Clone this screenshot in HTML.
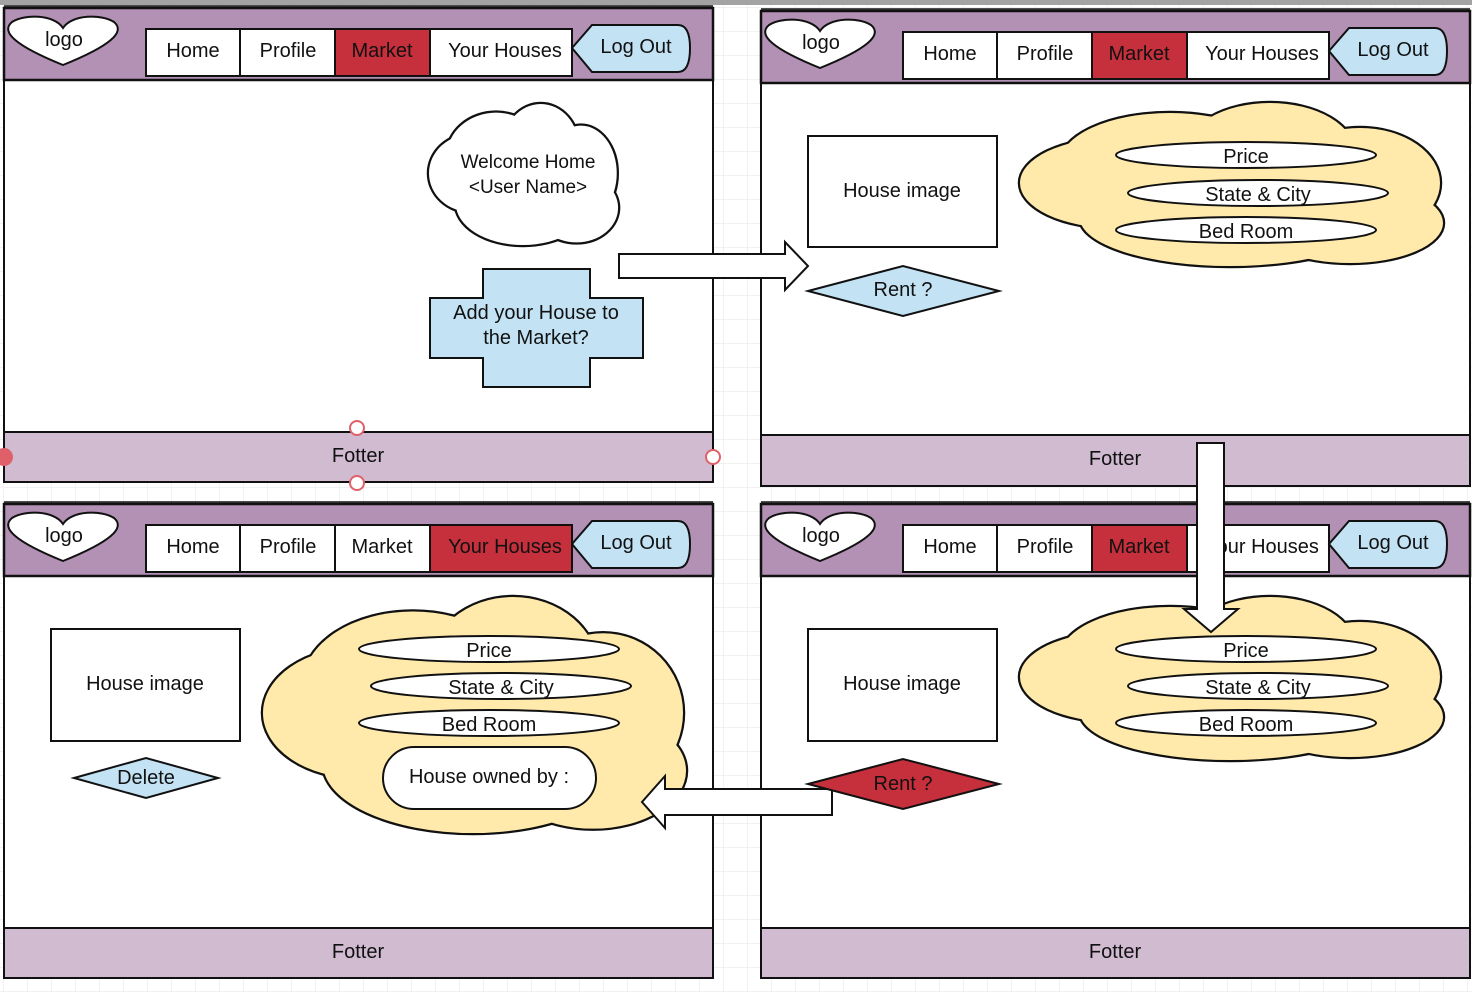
<!DOCTYPE html>
<html><head><meta charset="utf-8"><style>
html,body{margin:0;padding:0;background:#fff;}
svg{display:block;font-family:"Liberation Sans",sans-serif;}
text{text-anchor:middle;fill:#111;}
</style></head><body>
<svg width="1472" height="992" viewBox="0 0 1472 992" xmlns="http://www.w3.org/2000/svg">
<defs>
<pattern id="grid" width="24" height="24" patternUnits="userSpaceOnUse" x="4" y="8">
<path d="M24 0V24M0 24H24" fill="none" stroke="#e6e6e6" stroke-width="1"/>
</pattern>
<g id="cloudS" stroke="#111" stroke-width="4.5" vector-effect="non-scaling-stroke">
<ellipse cx="95" cy="80" rx="95" ry="45" vector-effect="non-scaling-stroke"/>
<ellipse cx="150" cy="60" rx="110" ry="50" vector-effect="non-scaling-stroke"/>
<ellipse cx="250" cy="50" rx="85" ry="50" vector-effect="non-scaling-stroke"/>
<ellipse cx="340" cy="80" rx="80" ry="55" vector-effect="non-scaling-stroke"/>
<ellipse cx="330" cy="120" rx="93" ry="40" vector-effect="non-scaling-stroke"/>
<ellipse cx="210" cy="115" rx="150" ry="48" vector-effect="non-scaling-stroke"/>
</g>
<g id="cloudF">
<ellipse cx="95" cy="80" rx="95" ry="45"/>
<ellipse cx="150" cy="60" rx="110" ry="50"/>
<ellipse cx="250" cy="50" rx="85" ry="50"/>
<ellipse cx="340" cy="80" rx="80" ry="55"/>
<ellipse cx="330" cy="120" rx="93" ry="40"/>
<ellipse cx="210" cy="115" rx="150" ry="48"/>
</g>
<g id="hdr">
<rect x="0" y="0" width="709" height="72" fill="#b391b5" stroke="#111" stroke-width="2.5"/>
<line x1="0" y1="-2" x2="709" y2="-2" stroke="#111" stroke-width="1.5"/>
<path d="M59,20 C50,6 20,6 8,14 C-4,24 12,38 59,57 C106,38 122,24 110,14 C98,6 68,6 59,20 Z" fill="#fff" stroke="#111" stroke-width="2"/>
<text x="60" y="38" font-size="20">logo</text>
<rect x="142" y="21" width="426" height="47" fill="#fff" stroke="#111" stroke-width="2"/>
<line x1="236" y1="21" x2="236" y2="68" stroke="#111" stroke-width="2"/>
<line x1="331" y1="21" x2="331" y2="68" stroke="#111" stroke-width="2"/>
<line x1="426" y1="21" x2="426" y2="68" stroke="#111" stroke-width="2"/>
<path d="M568,40 L588,17 L674,17 Q686,17 686,40 Q686,64 674,64 L588,64 Z" fill="#c3e3f5" stroke="#111" stroke-width="2"/>
<text x="189" y="49" font-size="20">Home</text>
<text x="284" y="49" font-size="20">Profile</text>
<text x="632" y="45" font-size="20">Log Out</text>
</g>
</defs>
<rect x="0" y="0" width="1472" height="992" fill="url(#grid)"/>
<rect x="0" y="0" width="1472" height="5" fill="#a3a3a3"/>

<!-- Panel 1 -->
<g transform="translate(4,8)">
<rect x="0" y="0" width="709" height="474" fill="#fff" stroke="#111" stroke-width="2"/>
<use href="#hdr"/>
<rect x="331" y="21" width="95" height="47" fill="#c62f3c" stroke="#111" stroke-width="2"/>
<text x="378" y="49" font-size="20">Market</text>
<text x="501" y="49" font-size="20">Your Houses</text>
<rect x="0" y="424" width="709" height="50" fill="#d1bbd1" stroke="#111" stroke-width="2"/>
<text x="354" y="454" font-size="20">Fotter</text>
</g>
<g transform="translate(429,104) scale(0.447,0.865)">
<use href="#cloudS" fill="#111"/><use href="#cloudF" fill="#fff"/>
</g>
<text x="528" y="168" font-size="19">Welcome Home</text>
<text x="528" y="193" font-size="19">&lt;User Name&gt;</text>
<path d="M483,269 H590 V298 H643 V358 H590 V387 H483 V358 H430 V298 H483 Z" fill="#c3e3f5" stroke="#111" stroke-width="2"/>
<text x="536" y="319" font-size="20">Add your House to</text>
<text x="536" y="344" font-size="20">the Market?</text>
<circle cx="357" cy="428" r="7" fill="#fff" stroke="#e0606a" stroke-width="2"/>
<circle cx="357" cy="483" r="7" fill="#fff" stroke="#e0606a" stroke-width="2"/>
<circle cx="713" cy="457" r="7" fill="#fff" stroke="#e0606a" stroke-width="2"/>
<circle cx="4" cy="457" r="9" fill="#e0606a"/>

<!-- Panel 2 -->
<g transform="translate(761,11)">
<rect x="0" y="0" width="709" height="475" fill="#fff" stroke="#111" stroke-width="2"/>
<use href="#hdr"/>
<rect x="331" y="21" width="95" height="47" fill="#c62f3c" stroke="#111" stroke-width="2"/>
<text x="378" y="49" font-size="20">Market</text>
<text x="501" y="49" font-size="20">Your Houses</text>
<rect x="0" y="424" width="709" height="51" fill="#d1bbd1" stroke="#111" stroke-width="2"/>
<text x="354" y="454" font-size="20">Fotter</text>
</g>
<rect x="808" y="136" width="189" height="111" fill="#fff" stroke="#111" stroke-width="2"/>
<text x="902" y="197" font-size="20">House image</text>
<path d="M808,291 L903,266 L999,291 L903,316 Z" fill="#c3e3f5" stroke="#111" stroke-width="2"/>
<text x="903" y="296" font-size="20">Rent ?</text>
<g transform="translate(1020,103)">
<use href="#cloudS" fill="#111"/><use href="#cloudF" fill="#ffeaab"/>
</g>
<ellipse cx="1246" cy="155" rx="130" ry="13" fill="#fff" stroke="#111" stroke-width="2"/>
<text x="1246" y="163" font-size="20">Price</text>
<ellipse cx="1258" cy="193" rx="130" ry="13" fill="#fff" stroke="#111" stroke-width="2"/>
<text x="1258" y="201" font-size="20">State &amp; City</text>
<ellipse cx="1246" cy="230" rx="130" ry="13" fill="#fff" stroke="#111" stroke-width="2"/>
<text x="1246" y="238" font-size="20">Bed Room</text>

<!-- Panel 3 -->
<g transform="translate(4,504)">
<rect x="0" y="0" width="709" height="474" fill="#fff" stroke="#111" stroke-width="2"/>
<use href="#hdr"/>
<text x="378" y="49" font-size="20">Market</text>
<rect x="426" y="21" width="142" height="47" fill="#c62f3c" stroke="#111" stroke-width="2"/>
<text x="501" y="49" font-size="20">Your Houses</text>
<rect x="0" y="424" width="709" height="50" fill="#d1bbd1" stroke="#111" stroke-width="2"/>
<text x="354" y="454" font-size="20">Fotter</text>
</g>
<rect x="51" y="629" width="189" height="112" fill="#fff" stroke="#111" stroke-width="2"/>
<text x="145" y="690" font-size="20">House image</text>
<path d="M74,778 L146,758 L218,778 L146,798 Z" fill="#c3e3f5" stroke="#111" stroke-width="2"/>
<text x="146" y="784" font-size="20">Delete</text>
<g transform="translate(263,597) scale(1,1.448)">
<use href="#cloudS" fill="#111"/><use href="#cloudF" fill="#ffeaab"/>
</g>
<ellipse cx="489" cy="649" rx="130" ry="13" fill="#fff" stroke="#111" stroke-width="2"/>
<text x="489" y="657" font-size="20">Price</text>
<ellipse cx="501" cy="686" rx="130" ry="13" fill="#fff" stroke="#111" stroke-width="2"/>
<text x="501" y="694" font-size="20">State &amp; City</text>
<ellipse cx="489" cy="723" rx="130" ry="13" fill="#fff" stroke="#111" stroke-width="2"/>
<text x="489" y="731" font-size="20">Bed Room</text>
<rect x="383" y="747" width="213" height="62" rx="31" fill="#fff" stroke="#111" stroke-width="2"/>
<text x="489" y="783" font-size="20">House owned by :</text>

<!-- Panel 4 -->
<g transform="translate(761,504)">
<rect x="0" y="0" width="709" height="474" fill="#fff" stroke="#111" stroke-width="2"/>
<use href="#hdr"/>
<rect x="331" y="21" width="95" height="47" fill="#c62f3c" stroke="#111" stroke-width="2"/>
<text x="378" y="49" font-size="20">Market</text>
<text x="501" y="49" font-size="20">Your Houses</text>
<rect x="0" y="424" width="709" height="50" fill="#d1bbd1" stroke="#111" stroke-width="2"/>
<text x="354" y="454" font-size="20">Fotter</text>
</g>
<rect x="808" y="629" width="189" height="112" fill="#fff" stroke="#111" stroke-width="2"/>
<text x="902" y="690" font-size="20">House image</text>
<g transform="translate(1020,597)">
<use href="#cloudS" fill="#111"/><use href="#cloudF" fill="#ffeaab"/>
</g>
<ellipse cx="1246" cy="649" rx="130" ry="13" fill="#fff" stroke="#111" stroke-width="2"/>
<text x="1246" y="657" font-size="20">Price</text>
<ellipse cx="1258" cy="686" rx="130" ry="13" fill="#fff" stroke="#111" stroke-width="2"/>
<text x="1258" y="694" font-size="20">State &amp; City</text>
<ellipse cx="1246" cy="723" rx="130" ry="13" fill="#fff" stroke="#111" stroke-width="2"/>
<text x="1246" y="731" font-size="20">Bed Room</text>

<!-- arrows -->
<path d="M619,254 H785 V242 L808,266 L785,290 V278 H619 Z" fill="#fff" stroke="#111" stroke-width="2"/>
<path d="M1197,443 H1224 V609 H1238 L1211,632 L1184,609 H1197 Z" fill="#fff" stroke="#111" stroke-width="2"/>
<path d="M832,789 H665 V776 L642,802 L665,828 V815 H832 Z" fill="#fff" stroke="#111" stroke-width="2"/>
<path d="M808,784 L903,759 L999,784 L903,809 Z" fill="#c62f3c" stroke="#111" stroke-width="2"/>
<text x="903" y="790" font-size="20">Rent ?</text>
</svg>
</body></html>
